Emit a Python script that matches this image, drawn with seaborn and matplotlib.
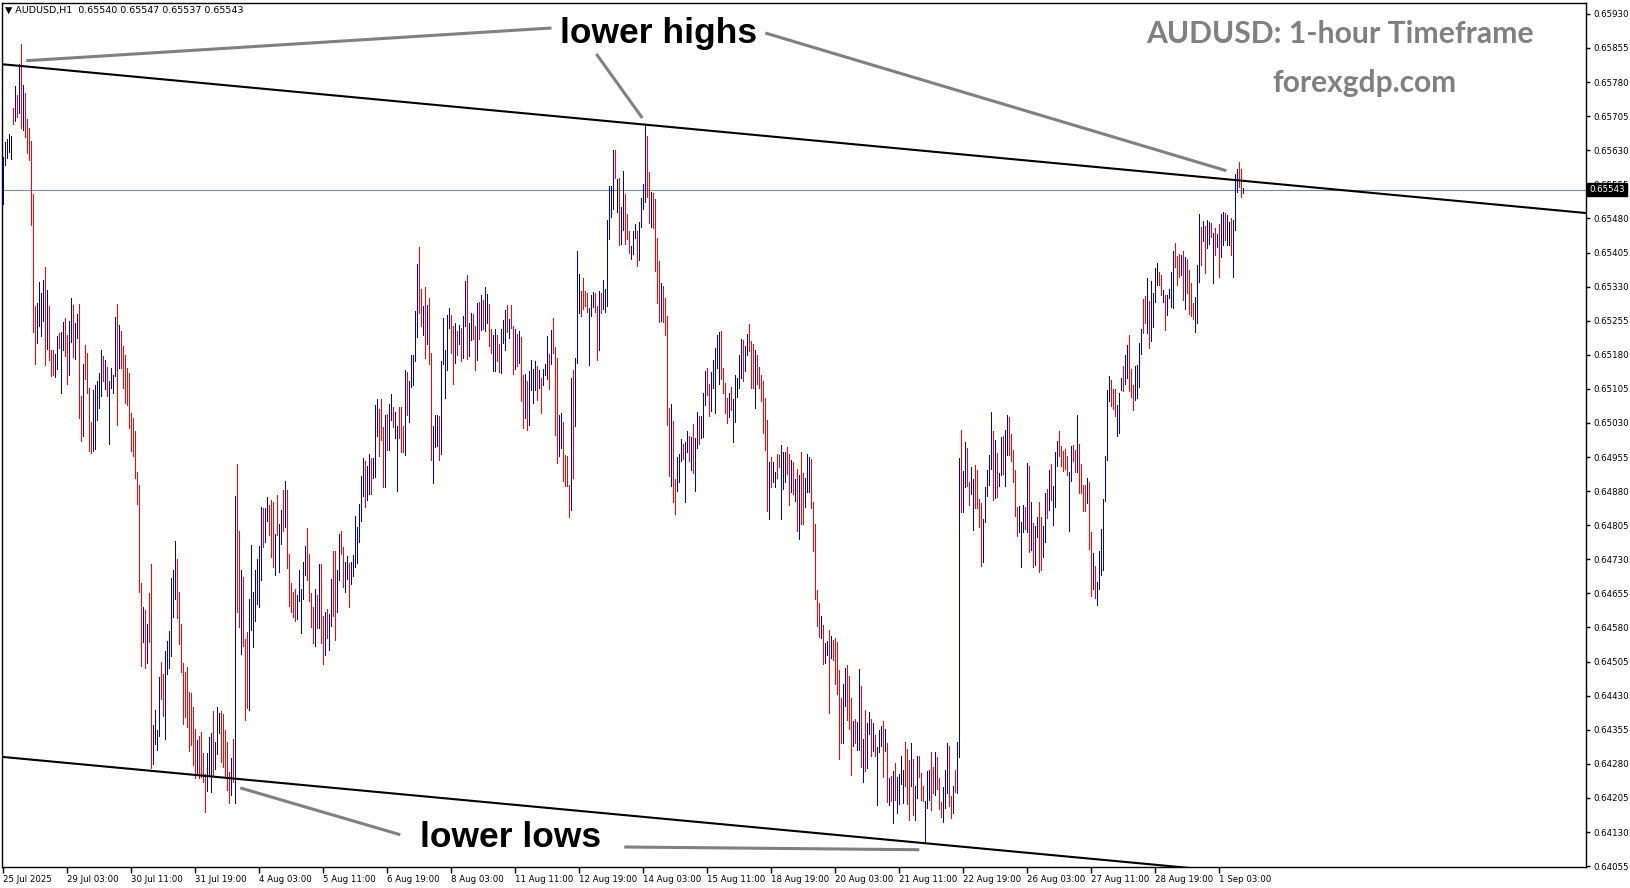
import numpy as np
import pandas as pd
import matplotlib
matplotlib.use("Agg")
import matplotlib.pyplot as plt
import seaborn as sns

# ---------------- data (prices in points of 0.00001 above 0.64000) ----------------
highs = [
    1615, 1648, 1655, 1665, 1662, 1723, 1772, 1751, 1819, 1864,
    1774, 1757, 1698, 1680, 1650, 1533, 1288, 1294, 1341, 1317,
    1345, 1373, 1323, 1288, 1190, 1190, 1181, 1221, 1227, 1231,
    1253, 1261, 1224, 1255, 1306, 1289, 1250, 1269, 1292, 1089,
    1160, 1202, 1184, 1106, 1033, 1103, 1113, 1123, 1140, 1190,
    1177, 1169, 1154, 1123, 1151, 1136, 1264, 1292, 1246, 1233,
    1199, 1180, 1152, 1140, 1051, 1040, 1013, 923, 893, 678,
    624, 618, 588, 655, 719, 366, 398, 354, 470, 504,
    478, 528, 551, 573, 689, 707, 770, 730, 657, 588,
    501, 483, 492, 439, 436, 405, 356, 333, 342, 351,
    304, 257, 304, 338, 348, 396, 327, 404, 392, 396,
    390, 354, 328, 261, 293, 335, 870, 939, 792, 707,
    690, 554, 569, 642, 762, 657, 707, 731, 760, 846,
    842, 842, 867, 850, 861, 857, 786, 871, 807, 838,
    882, 903, 882, 741, 678, 659, 664, 651, 707, 665,
    724, 760, 798, 741, 655, 626, 665, 651, 720, 720,
    606, 615, 621, 610, 687, 748, 749, 707, 786, 792,
    758, 724, 738, 722, 724, 739, 825, 800, 852, 914,
    953, 946, 936, 962, 953, 953, 1069, 1083, 1061, 1083,
    1021, 1047, 1049, 1072, 1093, 1065, 1054, 1024, 1065, 1065,
    1024, 1147, 1143, 1122, 1180, 1180, 1277, 1380, 1418, 1325,
    1287, 1330, 1290, 1306, 1185, 1024, 1048, 1047, 1045, 1166,
    1261, 1191, 1268, 1283, 1268, 1243, 1250, 1233, 1246, 1239,
    1266, 1343, 1355, 1251, 1273, 1270, 1244, 1295, 1297, 1312,
    1300, 1330, 1314, 1292, 1237, 1223, 1237, 1223, 1204, 1237,
    1256, 1278, 1290, 1259, 1290, 1244, 1237, 1226, 1233, 1219,
    1136, 1138, 1123, 1144, 1169, 1149, 1167, 1156, 1146, 1129,
    1149, 1160, 1222, 1182, 1234, 1261, 1198, 1174, 1048, 1052,
    1033, 960, 958, 894, 1129, 1147, 1173, 1409, 1358, 1321,
    1350, 1321, 1316, 1284, 1311, 1319, 1316, 1288, 1321, 1317,
    1345, 1325, 1477, 1552, 1552, 1631, 1631, 1567, 1569, 1505,
    1585, 1533, 1490, 1452, 1420, 1452, 1468, 1452, 1473, 1525,
    1555, 1688, 1662, 1583, 1538, 1536, 1523, 1436, 1387, 1337,
    1331, 1304, 1266, 1063, 1072, 1034, 906, 956, 961, 994,
    984, 987, 1013, 1002, 999, 1027, 996, 1054, 1046, 1046,
    1097, 1144, 1151, 1115, 1142, 1168, 1194, 1223, 1231, 1232,
    1151, 1118, 1085, 1096, 1110, 1082, 1135, 1130, 1180, 1215,
    1213, 1199, 1226, 1247, 1211, 1204, 1190, 1180, 1154, 1135,
    1123, 1085, 1037, 943, 956, 944, 922, 961, 959, 982,
    965, 965, 978, 961, 948, 943, 906, 929, 916, 965,
    920, 908, 961, 954, 951, 856, 808, 662, 633, 605,
    586, 546, 550, 574, 562, 552, 556, 547, 487, 424,
    456, 491, 498, 473, 425, 375, 379, 371, 489, 451,
    335, 399, 369, 395, 379, 370, 343, 317, 354, 364,
    374, 357, 325, 249, 253, 265, 281, 251, 258, 298,
    267, 327, 313, 289, 325, 291, 232, 298, 298, 260,
    232, 198, 264, 267, 305, 273, 307, 294, 249, 197,
    228, 266, 325, 320, 210, 231, 266, 327, 953, 1015,
    925, 987, 975, 901, 933, 907, 938, 926, 863, 854,
    819, 889, 927, 960, 1054, 1013, 993, 964, 920, 1000,
    1002, 1015, 1048, 1043, 1005, 971, 927, 845, 848, 813,
    850, 844, 942, 936, 855, 810, 804, 823, 855, 823,
    804, 875, 885, 927, 940, 892, 967, 991, 1013, 980,
    968, 973, 957, 921, 979, 981, 970, 1048, 984, 940,
    894, 894, 909, 899, 790, 743, 716, 680, 748, 797,
    863, 958, 1103, 1134, 1125, 1105, 1105, 1070, 1097, 1129,
    1156, 1180, 1202, 1224, 1149, 1114, 1156, 1158, 1207, 1237,
    1303, 1310, 1349, 1299, 1343, 1317, 1371, 1382, 1363, 1356,
    1323, 1312, 1312, 1325, 1363, 1409, 1426, 1398, 1402, 1400,
    1409, 1396, 1391, 1367, 1338, 1294, 1307, 1378, 1490, 1461,
    1475, 1464, 1477, 1473, 1470, 1449, 1460, 1446, 1468, 1490,
    1495, 1493, 1488, 1473, 1482, 1477, 1578, 1589, 1604, 1589,
    1547,
]

lows = [
    1511, 1597, 1612, 1626, 1610, 1687, 1695, 1704, 1713, 1678,
    1675, 1659, 1625, 1609, 1466, 1231, 1160, 1205, 1244, 1222,
    1255, 1158, 1193, 1168, 1134, 1136, 1132, 1149, 1194, 1096,
    1191, 1177, 1115, 1135, 1208, 1175, 1171, 1216, 1040, 991,
    1001, 1126, 1096, 968, 964, 969, 973, 1037, 1062, 1089,
    1123, 1104, 1090, 984, 1106, 1096, 1134, 1025, 1150, 1152,
    1106, 1073, 1070, 1020, 969, 958, 908, 851, 659, 495,
    548, 490, 501, 548, 270, 279, 324, 311, 341, 422,
    386, 335, 477, 490, 517, 602, 643, 601, 543, 483,
    367, 384, 361, 308, 322, 277, 248, 255, 248, 252,
    240, 173, 221, 255, 219, 255, 269, 301, 348, 283,
    272, 249, 222, 194, 211, 241, 194, 613, 581, 522,
    539, 377, 403, 398, 575, 537, 594, 632, 626, 685,
    758, 769, 815, 783, 735, 712, 696, 783, 701, 763,
    792, 802, 710, 628, 615, 603, 594, 598, 638, 567,
    642, 696, 685, 638, 581, 546, 539, 579, 578, 546,
    499, 520, 556, 530, 584, 605, 552, 615, 685, 741,
    668, 657, 687, 626, 676, 693, 714, 721, 769, 815,
    870, 845, 861, 874, 874, 908, 912, 1002, 958, 992,
    889, 889, 971, 971, 1036, 1021, 996, 881, 996, 967,
    967, 960, 1047, 1032, 1110, 1114, 1166, 1219, 1273, 1243,
    1224, 1174, 1204, 1160, 949, 897, 976, 979, 949, 962,
    1160, 1086, 1147, 1239, 1185, 1116, 1163, 1180, 1204, 1166,
    1173, 1244, 1171, 1177, 1212, 1215, 1146, 1168, 1215, 1235,
    1237, 1232, 1251, 1200, 1185, 1144, 1144, 1166, 1142, 1140,
    1207, 1190, 1231, 1217, 1239, 1138, 1149, 1156, 1162, 1078,
    1019, 1041, 1014, 1025, 1102, 1074, 1102, 1080, 1107, 1052,
    1114, 1136, 1127, 1105, 1160, 1185, 1003, 942, 957, 975,
    902, 892, 892, 822, 838, 909, 1024, 1162, 1273, 1266,
    1281, 1288, 1275, 1158, 1266, 1286, 1275, 1168, 1190, 1272,
    1281, 1275, 1288, 1435, 1483, 1501, 1569, 1495, 1422, 1423,
    1455, 1423, 1435, 1404, 1390, 1401, 1437, 1376, 1388, 1461,
    1500, 1517, 1528, 1469, 1461, 1460, 1364, 1293, 1252, 1254,
    1253, 1223, 1026, 913, 891, 856, 830, 881, 899, 946,
    951, 856, 965, 946, 927, 920, 881, 975, 984, 997,
    999, 1070, 1091, 1046, 1056, 1108, 1051, 1151, 1116, 1126,
    1096, 1053, 1030, 1044, 1059, 987, 1032, 1087, 1107, 1128,
    1123, 1144, 1180, 1188, 1107, 1107, 1063, 1116, 1107, 1078,
    1008, 970, 837, 819, 889, 899, 889, 908, 932, 819,
    884, 899, 918, 849, 879, 873, 858, 792, 775, 808,
    808, 846, 878, 879, 843, 748, 643, 584, 558, 557,
    500, 502, 520, 391, 513, 508, 456, 434, 291, 325,
    325, 408, 377, 357, 256, 319, 326, 310, 311, 273,
    240, 265, 271, 345, 298, 308, 298, 190, 306, 320,
    251, 309, 196, 190, 198, 150, 200, 171, 191, 236,
    194, 232, 191, 156, 232, 168, 156, 205, 251, 200,
    198, 105, 183, 200, 179, 215, 212, 225, 181, 163,
    153, 183, 216, 188, 161, 171, 218, 215, 294, 833,
    835, 889, 892, 850, 874, 795, 843, 843, 801, 716,
    723, 813, 870, 893, 929, 861, 865, 867, 892, 916,
    918, 892, 959, 960, 947, 901, 826, 782, 791, 712,
    791, 797, 791, 747, 751, 713, 718, 779, 702, 706,
    735, 768, 820, 839, 861, 806, 844, 936, 957, 936,
    924, 929, 916, 792, 902, 946, 921, 921, 875, 876,
    837, 836, 854, 753, 650, 665, 645, 629, 665, 696,
    707, 858, 948, 1078, 1068, 1061, 1046, 1001, 1007, 1102,
    1100, 1116, 1129, 1100, 1087, 1058, 1081, 1085, 1109, 1182,
    1228, 1250, 1227, 1196, 1211, 1242, 1297, 1334, 1333, 1311,
    1297, 1234, 1268, 1306, 1285, 1284, 1374, 1333, 1352, 1355,
    1301, 1281, 1316, 1270, 1265, 1259, 1231, 1250, 1341, 1377,
    1431, 1361, 1416, 1424, 1439, 1338, 1399, 1418, 1352, 1396,
    1421, 1432, 1422, 1421, 1399, 1352, 1455, 1539, 1549, 1528,
    1537,
]

# u = up bar (blue), d = down bar (red), n = unchanged (black)
directions = "".join([
    "uuunndudud", "udddddduuu", "ududdduudu", "udduuduudd", "udddduuuuu",
    "duduuuudud", "dddddddddd", "ududduuuud", "duuuuuuddd", "dddddddudd",
    "dduuuduund", "ddddududdu", "ddduuuuuuu", "duuddduduu", "duddddduuu",
    "uuddddudud", "duduudduud", "duuduuuuuu", "uduuduuudd", "duduuduudd",
    "duduuuuudd", "ududduuudu", "uuuuddudud", "uuduuddudu", "duudduuddu",
    "uududdudud", "duduuuudud", "uuududdduu", "dddduduund", "ddduuuddud",
    "uuuuuudndu", "uddduuuduu", "uudduddddu", "ddddudduuu", "duududuudu",
    "uudduuuuud", "ddduduunuu", "duuddduddd", "ddduduuddu", "uuddududud",
    "duuudddddu", "duududdddd", "uuddduduud", "uduududuuu", "dudududuun",
    "uddduduudd", "duuudduddd", "uuudduduud", "uudduudddd", "uuuuududuu",
    "duuddddduu", "udududuudd", "uududuuudd", "ddduuddudd", "ddudduduuu",
    "uuuuddduuu", "duuddduuuu", "dduduuundd", "uduuuudddu", "dudddduuud",
    "uduudududu", "udunduuudd", "u",
])

x_tick_labels = ["25 Jul 2025", "29 Jul 03:00", "30 Jul 11:00", "31 Jul 19:00",
                 "4 Aug 03:00", "5 Aug 11:00", "6 Aug 19:00", "8 Aug 03:00",
                 "11 Aug 11:00", "12 Aug 19:00", "14 Aug 03:00", "15 Aug 11:00",
                 "18 Aug 19:00", "20 Aug 03:00", "21 Aug 11:00", "22 Aug 19:00",
                 "26 Aug 03:00", "27 Aug 11:00", "28 Aug 19:00", "1 Sep 03:00"]
bars_per_label = 32

y_tick_values = [0.64055, 0.64130, 0.64205, 0.64280, 0.64355, 0.64430, 0.64505,
                 0.64580, 0.64655, 0.64730, 0.64805, 0.64880, 0.64955, 0.65030,
                 0.65105, 0.65180, 0.65255, 0.65330, 0.65405, 0.65480, 0.65555,
                 0.65630, 0.65705, 0.65780, 0.65855, 0.65930]

current_price = 0.65543
upper_trend_bars = [0, 791]
upper_trend_prices = [0.65819, 0.65492]
lower_trend_bars = [0, 600]
lower_trend_prices = [0.64295, 0.64048]

BASE = 0.64000
POINT = 1e-5

# ---------------- figure ----------------
sns.set_theme(style="ticks")
plt.rcParams['font.family'] = ['DejaVu Sans']

W, H = 1631, 888
fig = plt.figure(figsize=(W / 100, H / 100), dpi=100)
fig.patch.set_facecolor("white")
px_l, px_r, px_t, px_b = 2, 1586, 3, 867
ax = fig.add_axes([px_l / W, 1 - px_b / H, (px_r - px_l) / W, (px_b - px_t) / H])
ax.set_facecolor("white")

n = len(highs)
assert len(lows) == n and len(directions) == n, (len(highs), len(lows), len(directions))
bars = np.arange(n)
hi = BASE + np.array(highs) * POINT
lo = BASE + np.array(lows) * POINT
df = pd.DataFrame({
    "bar": np.repeat(bars, 2),
    "price": np.column_stack([lo, hi]).ravel(),
    "dir": np.repeat(list(directions), 2),
})
sns.lineplot(data=df, x="bar", y="price", hue="dir", units="bar", estimator=None,
             palette={"u": "#0000CD", "d": "#FF0000", "n": "#000000"},
             linewidth=0.68, legend=False, ax=ax, sort=False, antialiased=False,
             solid_capstyle="butt")

# trend lines
sns.lineplot(x=upper_trend_bars, y=upper_trend_prices, color="black", linewidth=1.5, ax=ax)
sns.lineplot(x=lower_trend_bars, y=lower_trend_prices, color="black", linewidth=1.5, ax=ax)

# bid line
ax.axhline(current_price, color="#778899", linewidth=0.8, zorder=1)

# annotation pointer lines (bar, price)
gray = "#808080"
pointers = [
    ([11.4, 274.0], [0.65827, 0.65899]),
    ([296.4, 319.4], [0.65842, 0.65701]),
    ([380.9, 611.4], [0.65888, 0.65585]),
    ([118.4, 198.4], [0.64227, 0.64124]),
    ([310.4, 457.9], [0.64097, 0.64091]),
]
for xs, ys in pointers:
    ax.plot(xs, ys, color=gray, linewidth=2.2, solid_capstyle="butt", zorder=3)

ax.text(327.4, 0.65886, "lower highs", ha="center", va="center", fontsize=25.5,
        fontweight="bold", family=["Liberation Sans"], color="black", zorder=5)
ax.text(253.4, 0.64117, "lower lows", ha="center", va="center", fontsize=25.5,
        fontweight="bold", family=["Liberation Sans"], color="black", zorder=5)

ax.text(668.4, 0.65886, "AUDUSD: 1-hour Timeframe", ha="center", va="center",
        fontsize=21.7, fontweight="bold", family=["Lato"], color="#808080", zorder=5)
ax.text(680.4, 0.65778, "forexgdp.com", ha="center", va="center",
        fontsize=21.5, fontweight="bold", family=["Lato"], color="#808080", zorder=5)

# axes
ax.set_xlim(-0.75, 791.25)
ax.set_ylim(0.64053, 0.65954)
ax.set_xlabel("")
ax.set_ylabel("")
ax.yaxis.tick_right()
ax.set_yticks(y_tick_values)
ax.set_yticklabels([f"{v:.5f}" for v in y_tick_values])
ax.set_xticks([i * bars_per_label for i in range(len(x_tick_labels))])
ax.set_xticklabels(x_tick_labels)
for lbl in ax.get_xticklabels():
    lbl.set_ha("left")
ax.tick_params(axis="y", which="both", right=True, left=False, direction="out",
               length=3, width=1, pad=2, labelsize=6.2, colors="black")
ax.tick_params(axis="x", which="both", bottom=True, direction="out",
               length=4, width=1, pad=2, labelsize=6.2, colors="black")
for s in ax.spines.values():
    s.set_visible(True)
    s.set_color("black")
    s.set_linewidth(1.0)

ax.annotate(f"{current_price:.5f}", xy=(1, current_price),
            xycoords=("axes fraction", "data"), xytext=(3, 0),
            textcoords="offset pixels", ha="left", va="center", color="white",
            fontsize=6.2, annotation_clip=False, zorder=10,
            bbox=dict(boxstyle="square,pad=0.25", fc="black", ec="black"))

fig.text(5 / W, 1 - 10 / H, "\u25BC AUDUSD,H1  0.65540 0.65547 0.65537 0.65543",
         fontsize=6.8, ha="left", va="center", color="black")

fig.savefig("out.png", dpi=100, facecolor="white")
